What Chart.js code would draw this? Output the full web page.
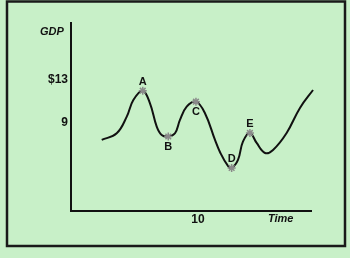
<!DOCTYPE html>
<html>
<head>
<meta charset="utf-8">
<script src="https://cdn.jsdelivr.net/npm/chart.js@4"></script>
<style>
  html, body { margin: 0; padding: 0; background: #c8f0c8; }
  #wrap { width: 350px; height: 258px; position: relative; }
</style>
</head>
<body>
<div id="wrap"><canvas id="gdpChart" width="350" height="258"></canvas></div>
<script>
// business cycle curve (time, GDP)
const curveTime = [2.42, 3.6, 4.39, 4.91, 5.65, 6.22, 6.75, 7.14, 7.66, 8.19, 8.58, 9.11, 9.84, 10.55, 11.34, 11.73, 12.36, 12.65, 13.15, 13.54, 14.09, 14.62, 15.28, 15.91, 16.98, 18.03, 19.06];
const curveGdp  = [7.42, 8.04, 9.59, 11.14, 12.0, 10.83, 8.66, 7.88, 7.74, 8.04, 9.28, 10.52, 10.98, 9.9, 7.42, 6.3, 5.0, 4.81, 5.56, 7.26, 8.07, 7.14, 6.21, 6.49, 8.07, 10.4, 12.07];

// marked points
const markLabels = ["A", "B", "C", "D", "E"];
const markTime = [5.65, 7.66, 9.84, 12.65, 14.09];
const markGdp = [12.0, 7.74, 10.98, 4.81, 8.07];
const markAbove = [true, false, false, true, true];

// tick labels
const yTicks = [9, 13];
const xTicks = [10];

const curvePts = curveTime.map((t, i) => ({ x: t, y: curveGdp[i] }));
const markPts = markTime.map((t, i) => ({ x: t, y: markGdp[i] }));

const frameAndLabels = {
    id: 'frameAndLabels',
    beforeDraw(chart) {
        const ctx = chart.ctx;
        ctx.save();
        ctx.fillStyle = '#c8f0c8';
        ctx.fillRect(0, 0, chart.width, chart.height);
        ctx.restore();
    },
    afterDraw(chart) {
        const ctx = chart.ctx;
        const xs = chart.scales.x, ys = chart.scales.y;
        ctx.save();
        // outer frame
        ctx.strokeStyle = '#1a1a1a';
        ctx.lineWidth = 2.5;
        ctx.strokeRect(7, 1.5, 338, 244.5);

        // axis titles
        ctx.fillStyle = '#111';
        ctx.font = 'italic bold 11px "Liberation Sans", Arial, sans-serif';
        ctx.textBaseline = 'middle';
        ctx.textAlign = 'left';
        ctx.fillText('GDP', 40, 32);
        ctx.fillText('Time', 268, 219);

        // point letters
        ctx.font = 'bold 11px "Liberation Sans", Arial, sans-serif';
        ctx.textAlign = 'center';
        markLabels.forEach((lab, i) => {
            const px = xs.getPixelForValue(markTime[i]);
            const py = ys.getPixelForValue(markGdp[i]);
            ctx.fillText(lab, px, markAbove[i] ? py - 9 : py + 10);
        });
        ctx.restore();
    }
};

new Chart(document.getElementById('gdpChart'), {
    type: 'line',
    data: {
        datasets: [{
            data: curvePts,
            borderColor: '#111',
            borderWidth: 2,
            pointRadius: 0,
            tension: 0.4,
            clip: false,
            order: 2
        }, {
            type: 'scatter',
            data: markPts,
            pointStyle: 'star',
            pointRadius: 4,
            borderColor: '#8a8a8a',
            backgroundColor: '#8a8a8a',
            borderWidth: 1.5,
            clip: false,
            order: 1
        }]
    },
    options: {
        responsive: false,
        animation: false,
        events: [],
        layout: { padding: { left: 0, top: 23, right: 39, bottom: 0 } },
        plugins: { legend: { display: false }, tooltip: { enabled: false } },
        scales: {
            x: {
                type: 'linear',
                min: 0,
                max: 18.9,
                grid: { display: false, drawTicks: false },
                border: { display: true, color: '#111', width: 2 },
                afterBuildTicks: s => { s.ticks = xTicks.map(v => ({ value: v })); },
                afterFit: s => { s.height = 47; },
                ticks: {
                    color: '#111',
                    padding: 1,
                    font: { size: 12, weight: 'bold', family: '"Liberation Sans", Arial, sans-serif' }
                }
            },
            y: {
                min: 0.81,
                max: 18.3,
                grid: { display: false, drawTicks: false },
                border: { display: true, color: '#111', width: 2 },
                afterBuildTicks: s => { s.ticks = yTicks.map(v => ({ value: v })); },
                afterFit: s => { s.width = 71; },
                ticks: {
                    color: '#111',
                    padding: 3,
                    font: { size: 12, weight: 'bold', family: '"Liberation Sans", Arial, sans-serif' },
                    callback: v => (v === 13 ? '$13' : String(v))
                }
            }
        }
    },
    plugins: [frameAndLabels]
});
</script>
</body>
</html>
